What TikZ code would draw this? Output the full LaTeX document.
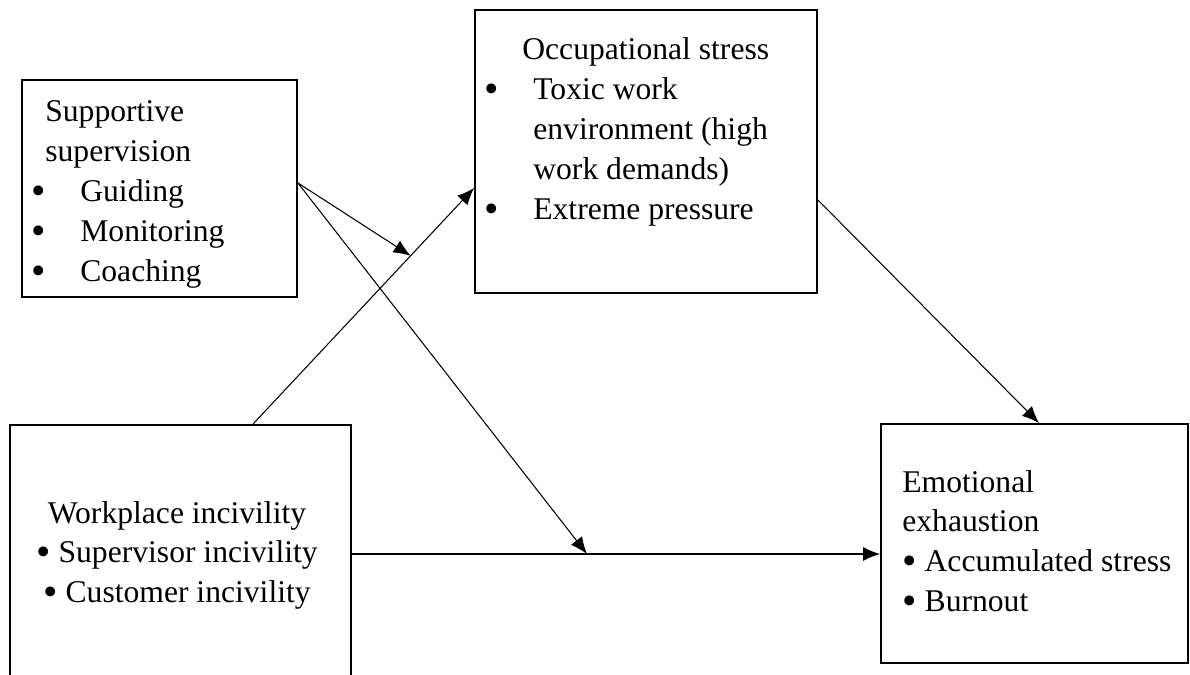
\documentclass[tikz,border=0pt]{standalone}
\usepackage{fontspec}
\setmainfont{Liberation Serif}
\usetikzlibrary{arrows.meta,positioning,calc}
\newcommand{\bigdot}{\raisebox{-0.09em}{\scalebox{1.3}{\textbullet}}}

\begin{document}
\begin{tikzpicture}[
        x=0.02cm, y=-0.02cm,
        box/.style={rectangle, draw, line width=1.1pt, inner sep=0pt},
        boxtext/.style={inner sep=0pt, font=\fontsize{18}{22.76}\selectfont},
        arrow/.style={-{Latex[length=0.34cm, width=0.28cm]}, line width=0.6pt}
    ]
        \clip (0,0) rectangle (1190,675);

        % Supportive supervision
        \node[box, minimum width=5.5cm, minimum height=4.34cm] (sup) at (159.5,188.5) {};
        \node[boxtext, anchor=base west] (sup_txt) at (31,122) {
            \begin{tabular}[t]{@{}p{0.98cm}@{}l@{}}
                \multicolumn{2}{@{\hspace{0.28cm}}l@{}}{Supportive} \\
                \multicolumn{2}{@{\hspace{0.28cm}}l@{}}{supervision} \\
                \bigdot & Guiding \\
                \bigdot & Monitoring \\
                \bigdot & Coaching
            \end{tabular}
        };

        % Occupational stress
        \node[box, minimum width=6.84cm, minimum height=5.66cm] (occ) at (646,151.5) {};
        \node[boxtext, anchor=base west] (occ_txt) at (484,60) {
            \begin{tabular}[t]{@{}p{0.98cm}@{}l@{}}
                \multicolumn{2}{@{\hspace{0.76cm}}l@{}}{Occupational stress} \\
                \bigdot & Toxic work \\
                 & environment (high \\
                 & work demands) \\
                \bigdot & Extreme pressure
            \end{tabular}
        };

        % Workplace incivility
        \node[box, minimum width=6.82cm, minimum height=5.16cm] (work) at (180.5,554) {};
        \node[boxtext, anchor=base] (work_txt) at (177,523) {
            \begin{tabular}[t]{@{}c@{}}
                Workplace incivility \\
                \bigdot{} Supervisor incivility \\
                \bigdot{} Customer incivility
            \end{tabular}
        };

        % Emotional exhaustion
        \node[box, minimum width=6.14cm, minimum height=4.78cm] (emo) at (1034.5,543.5) {};
        \node[boxtext, anchor=base west] (emo_txt) at (902,492) {
            \begin{tabular}[t]{@{}l@{}}
                Emotional \\
                exhaustion \\
                \bigdot{} Accumulated stress \\
                \bigdot{} Burnout
            \end{tabular}
        };

        % Connection points
        \coordinate (s_out) at (sup.east |- 0,183);
        \coordinate (w_out) at (work.north -| 253,0);
        \coordinate (o_in) at (occ.west |- 0,188);
        \coordinate (o_out) at (occ.east |- 0,200);
        \coordinate (e_in) at (emo.north -| 1039,0);
        \coordinate (m_top) at ($(w_out)!0.713!(o_in)$);
        \coordinate (m_low) at (work.east -| 587,0);

        % Paths
        \draw[arrow] (w_out) -- (o_in);
        \draw[arrow] (o_out) -- (e_in);
        \draw[arrow] (work.east) -- (emo.west |- work.east);
        \draw[arrow] (s_out) -- (m_top);
        \draw[arrow] (s_out) -- (m_low);

    \end{tikzpicture}
\end{document}
